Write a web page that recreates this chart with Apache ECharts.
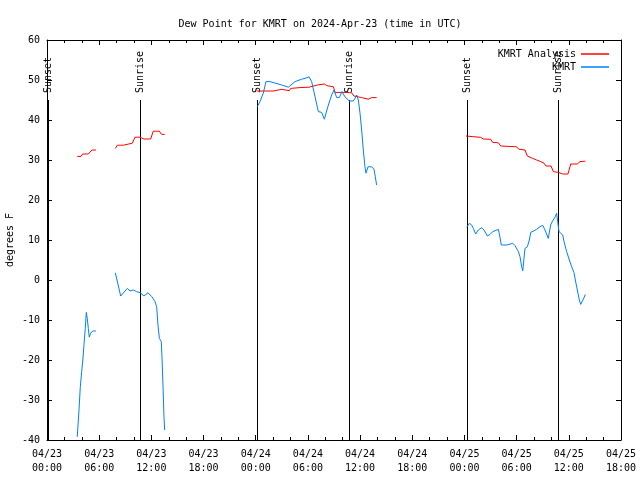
<!DOCTYPE html>
<html>
<head>
<meta charset="utf-8">
<script src="https://cdn.jsdelivr.net/npm/echarts@6/dist/echarts.min.js"></script>
<style>html,body{margin:0;padding:0;background:#fff}#c{width:640px;height:480px}</style>
</head>
<body>
<div id="c"></div>
<script>
// Hours since 2024-04-23 00:00 UTC; null dew value = gap in the record
const analysisHours = [3.48,3.91,4.10,4.75,5.17,5.63, 6.7,
  7.86,8.09,8.78,8.97,9.81,10.12,10.69,11.15,11.92,12.22,12.91,13.18,13.53, 18.0,
  24.11,26.03,26.14,26.98,27.10,27.86,28.02,29.09,30.13,30.24,31.08,31.89,32.16,32.93,33.12,34.26,35.03,35.30,36.18,36.37,36.95,37.33,37.90, 43.0,
  48.18,49.02,49.87,50.17,51.02,51.25,51.90,52.17,53.04,54.00,54.24,54.96,55.23,55.85,56.30,56.77,57.15,57.38,57.95,58.22,58.80,59.30,59.90,60.22,60.98,61.29,61.90];
const analysisDewF = [30.9,30.9,31.5,31.5,32.5,32.5, null,
  32.9,33.7,33.7,34.2,34.2,35.7,35.7,35.25,35.25,37.2,37.2,36.4,36.4, null,
  47.25,47.25,47.67,47.67,47.33,47.33,47.9,48.1,48.2,48.6,48.75,49.0,48.6,48.3,46.9,46.9,46.8,46.0,45.6,45.2,45.2,45.6,45.6, null,
  36.0,35.83,35.67,35.25,35.17,34.4,34.3,33.5,33.4,33.3,32.7,32.5,31.0,30.4,30.0,29.6,29.2,28.5,28.5,27.1,26.9,26.5,26.5,29.0,29.0,29.6,29.7];

const obsHours = [3.48,3.68,3.83,3.99,4.14,4.25,4.40,4.52,4.63,4.75,4.86,5.02,5.25,5.63, 6.7,
  7.86,8.47,9.24,9.54,9.93,10.31,10.73,11.15,11.61,12.07,12.42,12.61,12.76,12.92,13.14,13.22,13.34,13.45,13.53, 18.0,
  24.18,24.49,24.87,25.18,25.64,26.98,27.75,27.94,28.52,29.28,29.67,30.13,30.24,30.43,30.82,31.20,31.58,31.89,32.35,32.73,33.00,33.31,33.61,33.92,34.26,34.76,35.22,35.41,35.61,35.80,35.99,36.18,36.37,36.56,36.68,36.91,37.33,37.60,37.75,37.90, 43.0,
  48.26,48.56,48.83,49.02,49.29,49.60,49.98,50.25,50.63,50.94,51.25,51.51,51.90,52.00,52.24,52.86,53.55,53.81,54.20,54.39,54.58,54.70,54.77,54.96,55.23,55.46,55.62,56.00,56.30,56.69,57.00,57.26,57.64,57.91,58.14,58.41,58.60,58.72,58.87,59.30,59.45,59.75,60.06,60.33,60.60,60.75,60.98,61.21,61.37,61.67,61.90];
const obsDewF = [-39.2,-32.5,-26.7,-22.9,-19.5,-16.3,-12.1,-8.1,-9.6,-12.1,-14.3,-13.3,-12.75,-12.75, null,
  1.8,-4.0,-2.1,-2.75,-2.5,-2.9,-3.2,-4.0,-3.2,-4.2,-5.4,-6.7,-11.25,-14.6,-15.4,-19.2,-26.7,-34.2,-37.5, null,
  43.3,44.6,46.7,49.6,49.6,48.75,48.2,48.3,49.6,50.2,50.4,50.8,51.25,49.6,45.8,42.1,41.9,40.2,43.75,46.25,47.5,45.6,45.6,47.1,45.8,44.75,44.75,45.4,46.25,45.0,41.7,37.5,32.5,28.3,26.7,28.3,28.3,27.7,25.8,23.75, null,
  13.17,14.17,13.75,12.9,11.5,12.5,13.1,12.5,11.0,11.4,12.1,12.3,12.67,11.67,8.75,8.75,9.17,8.6,7.1,5.8,3.3,2.3,3.75,7.9,8.3,10.0,11.9,12.3,12.67,13.3,13.67,12.5,10.4,13.75,14.8,15.67,16.67,14.6,12.1,11.25,9.6,7.1,5.0,3.3,1.8,0.0,-2.5,-5.0,-6.1,-4.8,-3.6];

const sunHours  = [0.15, 10.73, 24.18, 34.76, 48.33, 58.8];
const sunLabels = ['Sunset','Sunrise','Sunset','Sunrise','Sunset','Sunrise'];
const sunLineTop = 45;

const xTickLabels = ['04/23\n00:00','04/23\n06:00','04/23\n12:00','04/23\n18:00','04/24\n00:00','04/24\n06:00',
  '04/24\n12:00','04/24\n18:00','04/25\n00:00','04/25\n06:00','04/25\n12:00','04/25\n18:00'];

const FONT = 'DejaVu Sans Mono';
const toData = (hs, vs) => hs.map((h, i) => [h, vs[i] == null ? '-' : vs[i]]);

const chart = echarts.init(document.getElementById('c'));
const xCommon = {
  type: 'value', min: 0, max: 66, interval: 6,
  axisLine: { show: true, onZero: false, lineStyle: { color: '#000', width: 1 } },
  axisTick: { show: true, inside: true, length: 5, lineStyle: { color: '#000' } },
  minorTick: { show: true, splitNumber: 3, length: 3, lineStyle: { color: '#000' } },
  splitLine: { show: false }
};
const yCommon = {
  type: 'value', min: -40, max: 60, interval: 10,
  axisLine: { show: true, onZero: false, lineStyle: { color: '#000', width: 1 } },
  axisTick: { show: true, inside: true, length: 5, lineStyle: { color: '#000' } },
  splitLine: { show: false }
};
chart.setOption({
  animation: false,
  backgroundColor: '#fff',
  title: {
    text: 'Dew Point for KMRT on 2024-Apr-23 (time in UTC)',
    left: 'center', top: 14,
    textStyle: { fontFamily: FONT, fontSize: 10, fontWeight: 'normal', color: '#000' }
  },
  legend: [
    { data: ['KMRT Analysis'], right: 26, top: 44, align: 'right', icon: 'rect', itemWidth: 28, itemHeight: 1.5,
      textStyle: { fontFamily: FONT, fontSize: 10, color: '#000' } },
    { data: ['KMRT'], right: 26, top: 57, align: 'right', icon: 'rect', itemWidth: 28, itemHeight: 1.5,
      textStyle: { fontFamily: FONT, fontSize: 10, color: '#000' } }
  ],
  grid: { left: 47, right: 19, top: 40, bottom: 40, containLabel: false, outerBoundsMode: 'none' },
  xAxis: [
    Object.assign({}, xCommon, {
      position: 'bottom',
      axisLabel: { show: true, margin: 7, lineHeight: 14, fontFamily: FONT, fontSize: 10, color: '#000',
        formatter: (v) => xTickLabels[Math.round(v / 6)] }
    }),
    Object.assign({}, xCommon, { position: 'top', axisLabel: { show: false } })
  ],
  yAxis: [
    Object.assign({}, yCommon, {
      position: 'left',
      name: 'degrees F', nameLocation: 'middle', nameGap: 32, nameRotate: 90, nameMoveOverlap: false,
      nameTextStyle: { fontFamily: FONT, fontSize: 10, color: '#000' },
      axisLabel: { show: true, margin: 7, fontFamily: FONT, fontSize: 10, color: '#000' }
    }),
    Object.assign({}, yCommon, { position: 'right', axisLabel: { show: false } })
  ],
  series: [
    {
      name: 'KMRT Analysis', type: 'line', data: toData(analysisHours, analysisDewF),
      symbol: 'none', connectNulls: false, lineStyle: { color: '#ff0000', width: 1 },
      itemStyle: { color: '#ff0000' }, z: 3
    },
    {
      name: 'KMRT', type: 'line', data: toData(obsHours, obsDewF),
      symbol: 'none', connectNulls: false, lineStyle: { color: '#0080ff', width: 1 },
      itemStyle: { color: '#0080ff' }, z: 4
    },
    {
      type: 'custom', silent: true, z: 2,
      data: sunHours.map((h, i) => [h, i]),
      renderItem: function (params, api) {
        const h = api.value(0);
        const idx = api.value(1);
        const top = api.coord([h, sunLineTop]);
        const bot = api.coord([h, -40]);
        const x = Math.round(top[0]) + 0.5;
        return {
          type: 'group',
          children: [
            { type: 'line', shape: { x1: x, y1: top[1], x2: x, y2: bot[1] },
              style: { stroke: '#000', lineWidth: 1 } },
            { type: 'text', x: x, y: top[1] - 7, rotation: Math.PI / 2,
              style: { text: sunLabels[idx], fill: '#000', font: '10px ' + FONT, align: 'left', verticalAlign: 'middle' } }
          ]
        };
      }
    }
  ]
});
</script>
</body>
</html>
